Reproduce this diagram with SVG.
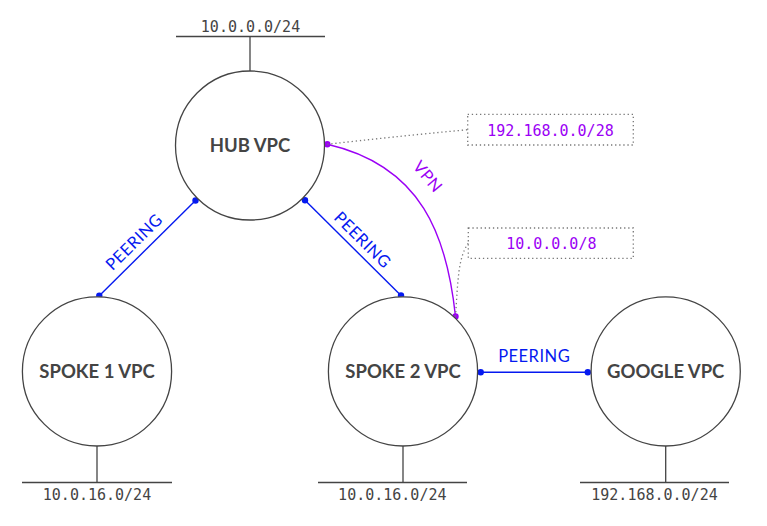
<svg xmlns="http://www.w3.org/2000/svg" width="767" height="526" viewBox="0 0 767 526">
<style>
  .node { fill: #ffffff; stroke: #444444; stroke-width: 1.3; }
  .net { stroke: #444444; stroke-width: 1.3; fill: none; }
  .name { font-family: Lato, "Noto Sans", sans-serif; font-weight: bold; font-size: 18.5px; fill: #444444; text-anchor: middle; }
  .cidr { font-family: "DejaVu Sans Mono", "Liberation Mono", monospace; font-size: 15px; fill: #444444; text-anchor: middle; }
  .peer { stroke: #0519f0; stroke-width: 1.4; fill: none; }
  .peerdot { fill: #0519f0; }
  .peertxt { font-family: Lato, "Noto Sans", sans-serif; font-size: 16.5px; fill: #0519f0; text-anchor: middle; letter-spacing: 0.5px; }
  .vpn { stroke: #9b00f5; stroke-width: 1.4; fill: none; }
  .vpndot { fill: #9b00f5; }
  .vpntxt { font-family: Lato, "Noto Sans", sans-serif; font-size: 16.5px; fill: #9b00f5; text-anchor: middle; letter-spacing: 0.5px; }
  .route { font-family: "DejaVu Sans Mono", "Liberation Mono", monospace; font-size: 15px; fill: #9b00f5; text-anchor: middle; }
  .dotted { stroke: #777777; stroke-width: 1.3; fill: none; stroke-dasharray: 1.3 2.8; }
</style>

<g id="connectors">
  <g id="peer-hub-spoke1">
    <line class="peer" x1="195.5" y1="200.5" x2="99.3" y2="295.7"/>
    <circle class="peerdot" cx="195.5" cy="200.5" r="3.2"/>
    <circle class="peerdot" cx="99.3" cy="295.7" r="3.2"/>
    <text class="peertxt" transform="translate(138,246) rotate(-44.7)">PEERING</text>
  </g>
  <g id="peer-hub-spoke2">
    <line class="peer" x1="305" y1="200.3" x2="401" y2="295.5"/>
    <circle class="peerdot" cx="305" cy="200.3" r="3.2"/>
    <circle class="peerdot" cx="401" cy="295.5" r="3.2"/>
    <text class="peertxt" transform="translate(358.5,244) rotate(44.8)">PEERING</text>
  </g>
  <g id="peer-spoke2-google">
    <line class="peer" x1="480.7" y1="372.3" x2="587.8" y2="372.3"/>
    <circle class="peerdot" cx="480.7" cy="372.3" r="3.2"/>
    <circle class="peerdot" cx="587.8" cy="372.3" r="3.2"/>
    <text class="peertxt" x="534.2" y="362.3">PEERING</text>
  </g>
  <g id="vpn-hub-spoke2">
    <path class="vpn" d="M327.3,144.3 C422,166 447,236 455.5,316.5"/>
    <circle class="vpndot" cx="327.3" cy="144.3" r="3.2"/>
    <circle class="vpndot" cx="455.5" cy="316.5" r="3.2"/>
    <text class="vpntxt" transform="translate(423.3,180.2) rotate(50)">VPN</text>
  </g>
  <g id="leaders">
    <path class="dotted" d="M327.3,144.3 Q390,137 467.7,129.7"/>
    <path class="dotted" d="M455.5,316.5 C458,280 458,258 468.3,243.2"/>
  </g>
</g>

<g id="route-hub">
  <rect class="dotted" x="467.7" y="114.3" width="165.6" height="30.7"/>
  <text class="route" x="550.5" y="136">192.168.0.0/28</text>
</g>
<g id="route-spoke2">
  <rect class="dotted" x="468.3" y="228" width="165" height="30.3"/>
  <text class="route" x="551.3" y="249.3">10.0.0.0/8</text>
</g>

<g id="hub">
  <line class="net" x1="176" y1="36.5" x2="325" y2="36.5"/>
  <line class="net" x1="250" y1="36.5" x2="250" y2="71"/>
  <text class="cidr" x="250.5" y="32">10.0.0.0/24</text>
  <circle class="node" cx="250" cy="145.5" r="74.5"/>
  <text class="name" x="250" y="151.5">HUB VPC</text>
</g>

<g id="spoke1">
  <circle class="node" cx="97" cy="371.4" r="74.6"/>
  <line class="net" x1="97" y1="446" x2="97" y2="482.5"/>
  <line class="net" x1="22" y1="482.5" x2="172" y2="482.5"/>
  <text class="cidr" x="97" y="500">10.0.16.0/24</text>
  <text class="name" x="97" y="377.5">SPOKE 1 VPC</text>
</g>

<g id="spoke2">
  <circle class="node" cx="403" cy="371.4" r="74.6"/>
  <line class="net" x1="403" y1="446" x2="403" y2="482.5"/>
  <line class="net" x1="318" y1="482.5" x2="467" y2="482.5"/>
  <text class="cidr" x="392.3" y="500">10.0.16.0/24</text>
  <text class="name" x="403" y="377.5">SPOKE 2 VPC</text>
</g>

<g id="google">
  <circle class="node" cx="665.7" cy="371.4" r="74.6"/>
  <line class="net" x1="665.7" y1="446" x2="665.7" y2="482.5"/>
  <line class="net" x1="580" y1="482.5" x2="729" y2="482.5"/>
  <text class="cidr" x="654.5" y="500">192.168.0.0/24</text>
  <text class="name" x="665.7" y="377.5">GOOGLE VPC</text>
</g>
</svg>
